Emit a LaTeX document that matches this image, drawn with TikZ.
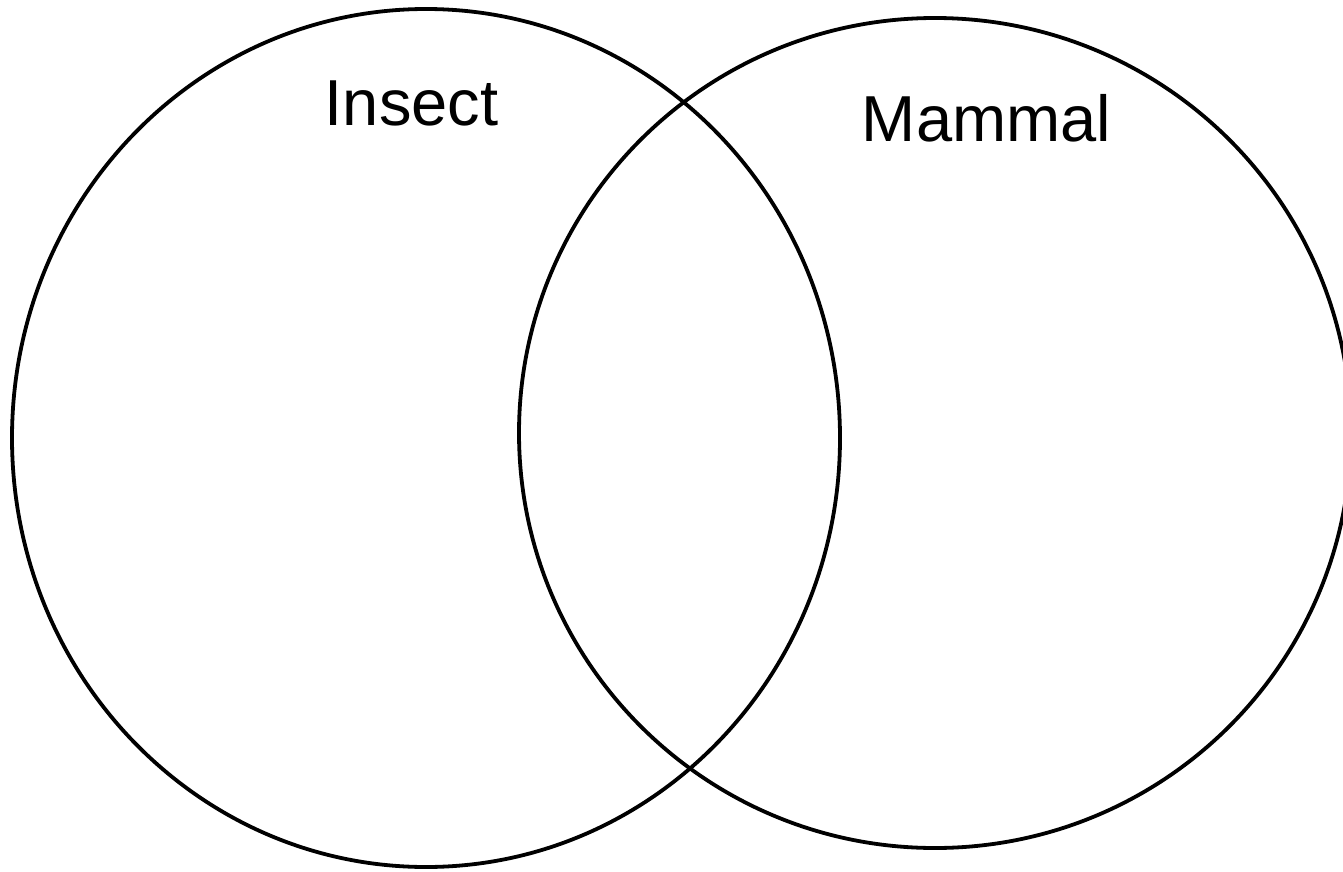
\documentclass[tikz,border=0pt]{standalone}
\usepackage{fontspec}
\setmainfont{Liberation Sans}
\usetikzlibrary{shapes.geometric}
\tikzset{
  setline/.style={draw=black, line width=3.8pt, ellipse, inner sep=0pt, outer sep=0pt},
  setlabel/.style={font=\fontsize{65}{78}\selectfont, anchor=base, inner sep=0pt}
}
\begin{document}
\begin{tikzpicture}[x=1pt,y=-1pt]
\useasboundingbox (0,0) rectangle (1343,872);
\node[setline, minimum width=828pt, minimum height=858pt] (insect) at (426,438) {};
\node[setline, minimum width=832pt, minimum height=830pt] (mammal) at (935,433) {};
\node[setlabel] (insectlabel) at (411.5,125) {Insect};
\node[setlabel] (mammallabel) at (986.5,142) {Mammal};
\end{tikzpicture}
\end{document}
